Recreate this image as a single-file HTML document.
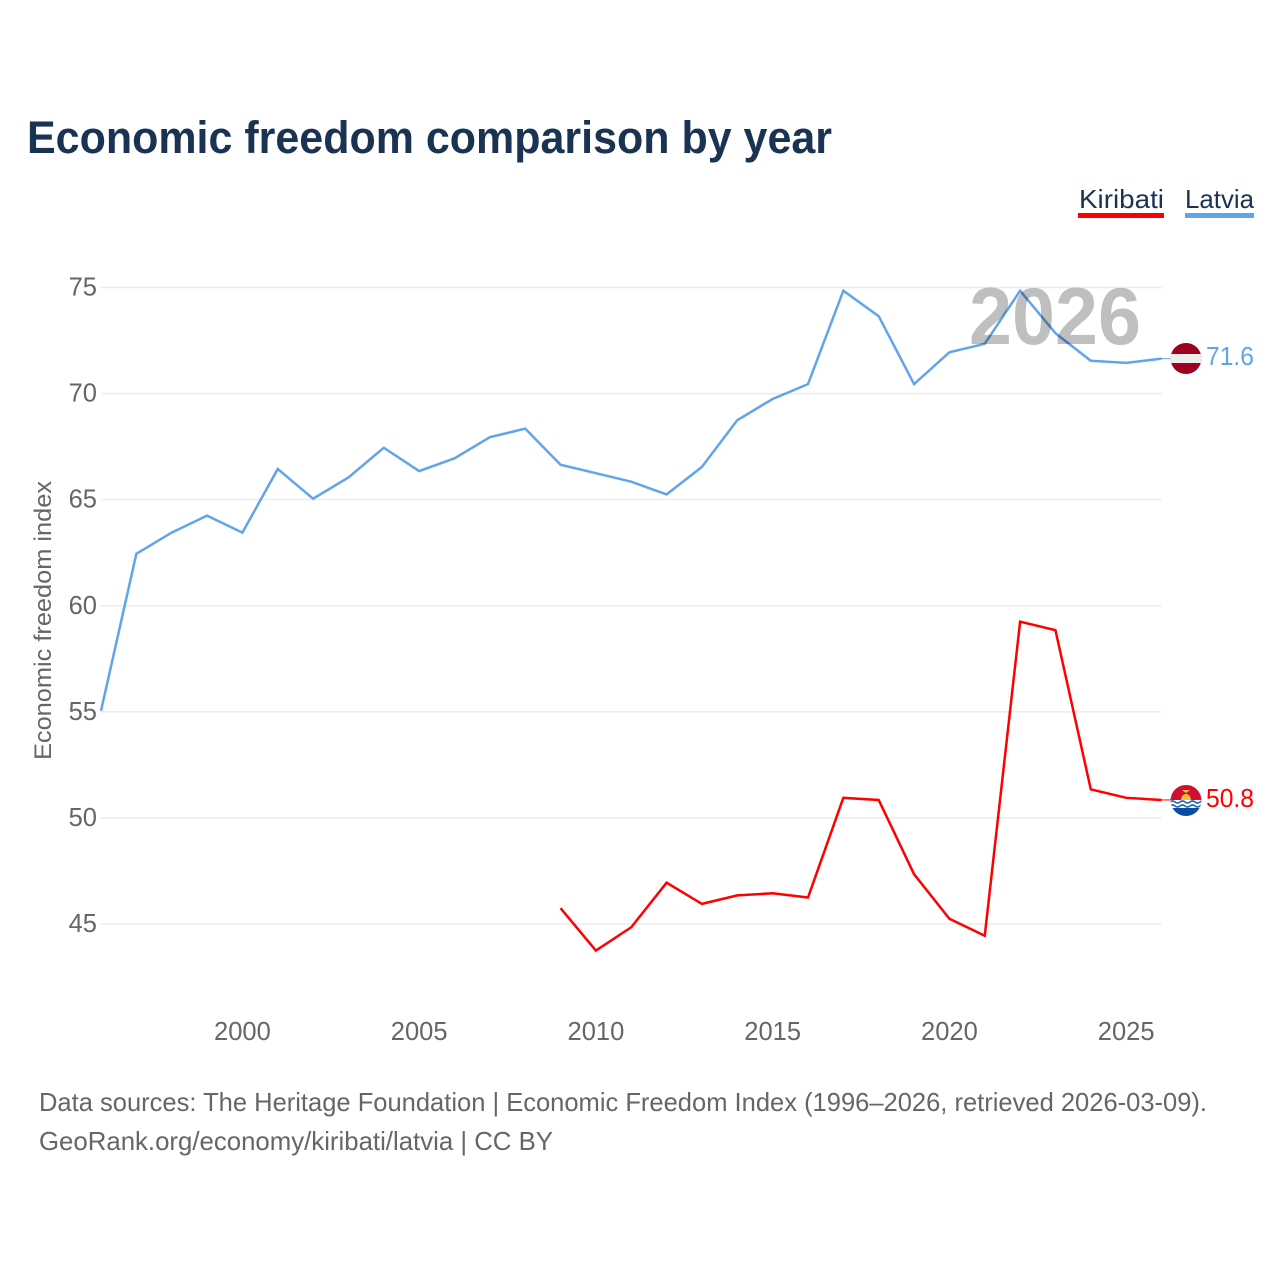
<!DOCTYPE html>
<html lang="en">
<head>
<meta charset="utf-8">
<title>Economic freedom comparison by year</title>
<style>
html,body{margin:0;padding:0;background:#fff;width:1280px;height:1280px;overflow:hidden}
svg{display:block}
text{font-family:"Liberation Sans",sans-serif}
</style>
</head>
<body>
<svg id="chart" xmlns="http://www.w3.org/2000/svg" width="1280" height="1280" viewBox="0 0 1280 1280">
  <defs>
    <clipPath id="clip-lv"><circle cx="1186" cy="358.500" r="15.500"/></clipPath>
    <clipPath id="clip-ki"><circle cx="1186" cy="800.500" r="15.500"/></clipPath>
  </defs>
  <rect x="0" y="0" width="1280" height="1280" fill="#fff"/>
  <text x="27" y="153" font-size="45" font-weight="700" fill="#1a3353" textLength="805" lengthAdjust="spacingAndGlyphs">Economic freedom comparison by year</text>

  <g>
    <g>
      <text x="1079" y="208" font-size="26" fill="#1a3353" textLength="85" lengthAdjust="spacingAndGlyphs">Kiribati</text>
      <rect x="1078" y="213" width="86" height="5" fill="#ff0000"/>
    </g>
    <g>
      <text x="1185" y="208" font-size="26" fill="#1a3353" textLength="69" lengthAdjust="spacingAndGlyphs">Latvia</text>
      <rect x="1185" y="213" width="69" height="5" fill="#60a5ec"/>
    </g>
  </g>

  <g id="grid"></g>
  <g id="y-axis"></g>
  <g id="x-axis"></g>
  <text transform="translate(51 760) rotate(-90)" x="0" y="0" font-size="24" fill="#666" textLength="279" lengthAdjust="spacingAndGlyphs">Economic freedom index</text>
  <g id="series" transform="translate(0 -1)"></g>

  <text x="969" y="344" font-size="81" font-weight="700" fill="#000" fill-opacity="0.25" textLength="172" lengthAdjust="spacingAndGlyphs">2026</text>

  <g clip-path="url(#clip-lv)">
    <rect x="1170" y="343" width="32" height="31" fill="#9e0020"/>
    <rect x="1170" y="354" width="32" height="9" fill="#eeeeee"/>
  </g>
  <g clip-path="url(#clip-ki)">
    <rect x="1170" y="785" width="32" height="15" fill="#d01030"/>
    <path d="M1181 800a5 6 0 0 1 10 0z" fill="#f6c030"/>
    <path d="M1182 790h8l-4 3z" fill="#f6c030"/>
    <rect x="1170" y="800" width="32" height="17" fill="#fff"/>
    <rect x="1170" y="808" width="32" height="9" fill="#0a4ea2"/>
    <path d="M1170 802q2.500-2 5 0t5 0t5 0t5 0t5 0t5 0t5 0" fill="none" stroke="#2a68b4" stroke-width="1.600"/>
    <path d="M1170 806q2.500-2 5 0t5 0t5 0t5 0t5 0t5 0t5 0" fill="none" stroke="#2a68b4" stroke-width="1.600"/>
  </g>

  <g id="end-labels"></g>

  <text x="39" y="1111" font-size="26" fill="#666" textLength="1168" lengthAdjust="spacingAndGlyphs">Data sources: The Heritage Foundation | Economic Freedom Index (1996–2026, retrieved 2026-03-09).</text>
  <text x="39" y="1150" font-size="26" fill="#666" textLength="514" lengthAdjust="spacingAndGlyphs">GeoRank.org/economy/kiribati/latvia | CC BY</text>
</svg>
<script>
const yTicks = [45, 50, 55, 60, 65, 70, 75];
const xTicks = [2000, 2005, 2010, 2015, 2020, 2025];
const latviaYears = [1996,1997,1998,1999,2000,2001,2002,2003,2004,2005,2006,2007,2008,2009,2010,2011,2012,2013,2014,2015,2016,2017,2018,2019,2020,2021,2022,2023,2024,2025,2026];
const latviaValues = [55.0,62.4,63.4,64.2,63.4,66.4,65.0,66.0,67.4,66.3,66.9,67.9,68.3,66.6,66.2,65.8,65.2,66.5,68.7,69.7,70.4,74.8,73.6,70.4,71.9,72.3,74.8,72.8,71.5,71.4,71.6];
const kiribatiYears = [2009,2010,2011,2012,2013,2014,2015,2016,2017,2018,2019,2020,2021,2022,2023,2024,2025,2026];
const kiribatiValues = [45.7,43.7,44.8,46.9,45.9,46.3,46.4,46.2,50.9,50.8,47.3,45.2,44.4,59.2,58.8,51.3,50.9,50.8];

const NS = 'http://www.w3.org/2000/svg';
const xScale = year => 101 + (year - 1996) * (1161.5 - 101) / 30;
const yScale = value => 924 - (value - 45) * (924 - 287.5) / 30;

function makeEl(tag, attrs, parent) {
  const el = document.createElementNS(NS, tag);
  for (const key in attrs) el.setAttribute(key, attrs[key]);
  parent.appendChild(el);
  return el;
}

const grid = document.getElementById('grid');
const yAxis = document.getElementById('y-axis');
const xAxis = document.getElementById('x-axis');
const series = document.getElementById('series');
const endLabels = document.getElementById('end-labels');

yTicks.forEach(tick => {
  const line = makeEl('line', {x1: 101, x2: 1161.5, y1: yScale(tick), y2: yScale(tick), stroke: '#ececec', 'stroke-width': 1.5}, grid);
  
  
  const label = makeEl('text', {x: 97, y: yScale(tick) + 8, 'text-anchor': 'end', 'font-size': 25.5, fill: '#666'}, yAxis);
  
  
  label.textContent = tick;
});

xTicks.forEach(tick => {
  const label = makeEl('text', {x: xScale(tick), y: 1040, 'text-anchor': 'middle', 'font-size': 25.5, fill: '#666'}, xAxis);
  
  
  label.textContent = tick;
});

function linePoints(years, values) {
  return years.map((year, i) => xScale(year).toFixed(2) + ',' + yScale(values[i]).toFixed(2)).join(' ');
}

const kiribatiLine = makeEl('polyline', {points: linePoints(kiribatiYears, kiribatiValues), fill: 'none', stroke: '#ff0000', 'stroke-width': 2.5, 'stroke-linejoin': 'miter'}, series);



const latviaLine = makeEl('polyline', {points: linePoints(latviaYears, latviaValues), fill: 'none', stroke: '#60a5ec', 'stroke-width': 2.5, 'stroke-linejoin': 'miter'}, series);



const latviaLast = latviaValues[latviaValues.length - 1];
const kiribatiLast = kiribatiValues[kiribatiValues.length - 1];

const latviaLeader = makeEl('line', {x1: 1161.5, x2: 1172, y1: yScale(latviaLast), y2: yScale(latviaLast), stroke: '#60a5ec', 'stroke-width': 1}, series);



const kiribatiLeader = makeEl('line', {x1: 1161.5, x2: 1172, y1: yScale(kiribatiLast), y2: yScale(kiribatiLast), stroke: '#ff0000', 'stroke-width': 1}, series);



const latviaEnd = makeEl('text', {x: 1206, y: 365, 'font-size': 25.5, fill: '#60a5ec', textLength: 48, lengthAdjust: 'spacingAndGlyphs'}, endLabels);


latviaEnd.textContent = latviaLast.toFixed(1);

const kiribatiEnd = makeEl('text', {x: 1206, y: 807, 'font-size': 25.5, fill: '#ff0000', textLength: 48, lengthAdjust: 'spacingAndGlyphs'}, endLabels);


kiribatiEnd.textContent = kiribatiLast.toFixed(1);
</script>
</body>
</html>
